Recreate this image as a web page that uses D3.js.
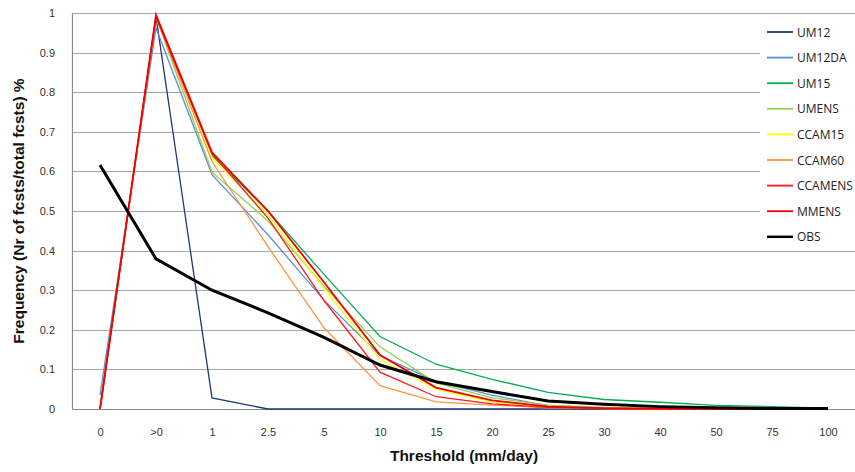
<!DOCTYPE html>
<html><head><meta charset="utf-8">
<script src="https://cdn.jsdelivr.net/npm/d3@7"></script>
<style>body{margin:0;background:#fff}svg{display:block}</style>
</head><body>
<svg id="c" width="855" height="472"></svg>
<script>
const categories = ["0", ">0", "1", "2.5", "5", "10", "15", "20", "25", "30", "40", "50", "75", "100"];
const yTicks = [0, 0.1, 0.2, 0.3, 0.4, 0.5, 0.6, 0.7, 0.8, 0.9, 1];
const seriesNames = ["UM12", "UM12DA", "UM15", "UMENS", "CCAM15", "CCAM60", "CCAMENS", "MMENS", "OBS"];
const seriesColors = ["#1f3878", "#5b8ed6", "#00b050", "#92d050", "#ffff00", "#f79646", "#ff1a1a", "#f00000", "#000000"];
const UM12    = [0, 0.99, 0.028, 0, 0, 0, 0, 0, 0, 0, 0, 0, 0, 0];
const UM12DA  = [0.035, 0.962, 0.592, 0.44, 0.275, 0.135, 0.07, 0.035, 0.008, 0.003, 0.001, 0.001, 0, 0];
const UM15    = [0, 0.99, 0.64, 0.50, 0.34, 0.183, 0.113, 0.075, 0.042, 0.024, 0.017, 0.009, 0.006, 0.002];
const UMENS   = [0, 0.99, 0.598, 0.475, 0.31, 0.157, 0.066, 0.028, 0.01, 0.004, 0.002, 0.001, 0, 0];
const CCAM15  = [0, 0.99, 0.635, 0.49, 0.305, 0.125, 0.05, 0.018, 0.005, 0.002, 0.001, 0, 0, 0];
const CCAM60  = [0, 0.99, 0.625, 0.41, 0.205, 0.059, 0.018, 0.01, 0.003, 0.001, 0, 0, 0, 0];
const CCAMENS = [0, 0.99, 0.645, 0.482, 0.274, 0.093, 0.031, 0.013, 0.004, 0.001, 0, 0, 0, 0];
const MMENS   = [0, 0.995, 0.648, 0.50, 0.32, 0.136, 0.054, 0.022, 0.006, 0.002, 0.001, 0, 0, 0];
const OBS     = [0.616, 0.379, 0.30, 0.243, 0.181, 0.111, 0.069, 0.044, 0.02, 0.012, 0.006, 0.003, 0.001, 0.001];
const seriesValues = [UM12, UM12DA, UM15, UMENS, CCAM15, CCAM60, CCAMENS, MMENS, OBS];
const seriesWidths = [1.3, 1.3, 1.3, 1.3, 1.3, 1.3, 1.3, 1.8, 3];

const svg = d3.select("#c");
const pL = 72, pR = 856, pT = 13, pB = 409;
const x = d3.scalePoint().domain(categories).range([pL, pR]).padding(0.5);
const y = d3.scaleLinear().domain([0, 1]).range([pB, pT]);

// gridlines
svg.append("g").selectAll("line").data(yTicks.filter(d => d > 0)).join("line")
  .attr("x1", pL).attr("x2", pR)
  .attr("y1", d => Math.round(y(d)) + 0.5).attr("y2", d => Math.round(y(d)) + 0.5)
  .attr("stroke", "#a6a6a6").attr("stroke-width", 1.2);

// axes
const yAxis = d3.axisLeft(y).tickValues(yTicks).tickSize(0).tickPadding(17).tickFormat(d3.format("~g"));
const gy = svg.append("g").attr("transform", `translate(${pL},0)`).call(yAxis);
gy.select(".domain").attr("stroke", "#8c8c8c").attr("stroke-width", 1.2);
gy.selectAll("text").attr("font-family", "Liberation Sans, Arial, sans-serif").attr("font-size", 11).attr("fill", "#333");

const xAxis = d3.axisBottom(x).tickSize(0).tickPadding(19);
const gx = svg.append("g").attr("transform", `translate(0,${pB})`).call(xAxis);
gx.select(".domain").attr("stroke", "#8c8c8c").attr("stroke-width", 1.2);
gx.selectAll("text").attr("font-family", "Liberation Sans, Arial, sans-serif").attr("font-size", 11).attr("fill", "#333");

// series lines
const line = d3.line().x((d, i) => x(categories[i])).y(d => y(d));
seriesNames.forEach((name, k) => {
  svg.append("path").datum(seriesValues[k])
    .attr("d", line).attr("fill", "none")
    .attr("stroke", seriesColors[k]).attr("stroke-width", seriesWidths[k])
    .attr("stroke-linejoin", "miter");
});

// legend
const lg = svg.append("g");
lg.append("rect").attr("x", 760).attr("y", 17).attr("width", 96).attr("height", 232).attr("fill", "#fff");
seriesNames.forEach((name, k) => {
  const yy = 32 + k * 25.6;
  lg.append("line").attr("x1", 767).attr("x2", 793).attr("y1", yy).attr("y2", yy)
    .attr("stroke", seriesColors[k]).attr("stroke-width", k === 8 ? 2.5 : 1.8);
  lg.append("text").attr("x", 797).attr("y", yy + 4.5).text(name)
    .attr("font-family", "Open Sans, Liberation Sans, sans-serif").attr("font-size", 12).attr("fill", "#222");
});

// titles
svg.append("text").attr("x", (pL + pR) / 2).attr("y", 461).attr("text-anchor", "middle")
  .attr("font-family", "Liberation Sans, Arial, sans-serif").attr("font-weight", "bold").attr("font-size", 15.5)
  .attr("fill", "#111").text("Threshold (mm/day)");
svg.append("text").attr("transform", `translate(24,${(pT + pB) / 2}) rotate(-90)`).attr("text-anchor", "middle")
  .attr("font-family", "Liberation Sans, Arial, sans-serif").attr("font-weight", "bold").attr("font-size", 15.5)
  .attr("fill", "#111").text("Frequency (Nr of fcsts/total fcsts) %");
</script>
</body></html>
